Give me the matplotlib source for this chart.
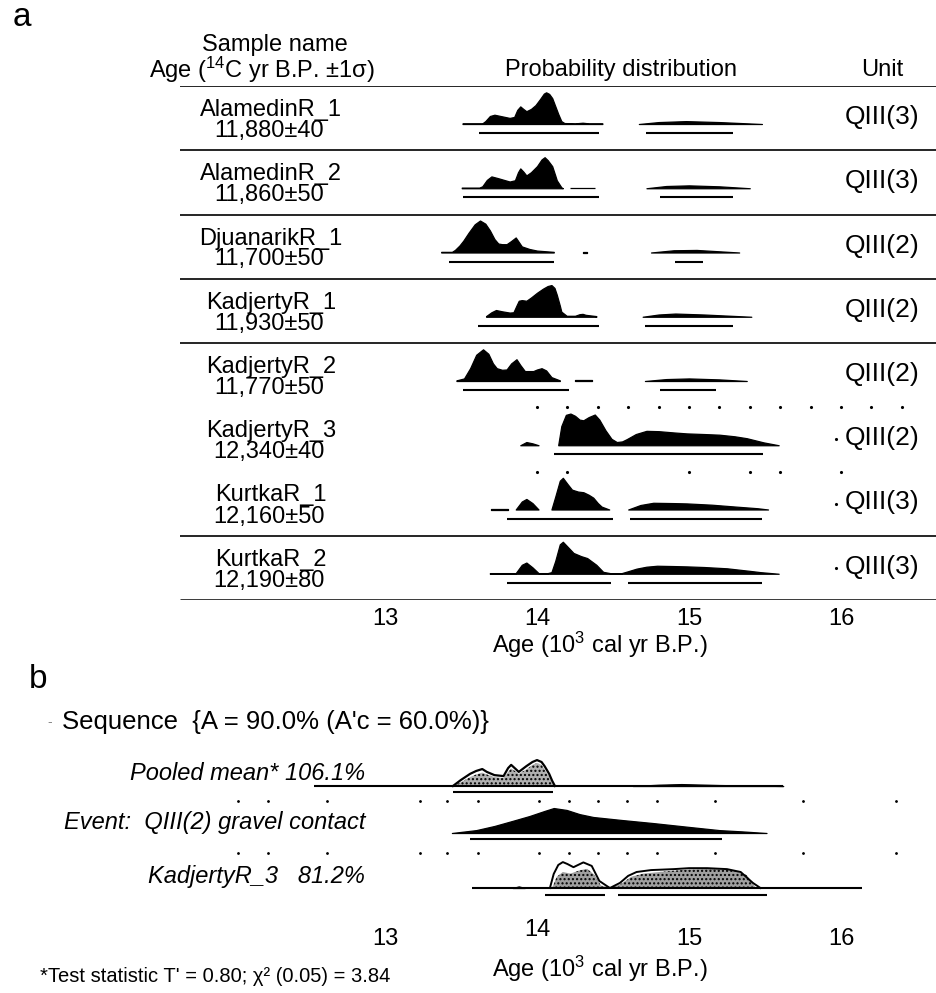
import matplotlib
matplotlib.use('Agg')
import matplotlib.pyplot as plt
import numpy as np
from matplotlib.transforms import ScaledTranslation

# ---------------- data ----------------
SAMPLE_NAMES = ['AlamedinR_1', 'AlamedinR_2', 'DjuanarikR_1', 'KadjertyR_1',
                'KadjertyR_2', 'KadjertyR_3', 'KurtkaR_1', 'KurtkaR_2']
C14_AGES = ['11,880±40', '11,860±50', '11,700±50', '11,930±50',
            '11,770±50', '12,340±40', '12,160±50', '12,190±80']
UNITS = ['QIII(3)', 'QIII(3)', 'QIII(2)', 'QIII(2)', 'QIII(2)', 'QIII(2)', 'QIII(3)', 'QIII(3)']
TICKS = [13, 14, 15, 16]

# calibrated probability (age in 10^3 cal yr B.P., relative density in % of row peak)
ALA1_AGE = [13.51, 13.64, 13.66, 13.69, 13.72, 13.76, 13.82, 13.85, 13.87, 13.89, 13.91, 13.93, 13.96,
            13.99, 14.02, 14.045, 14.06, 14.08, 14.10, 14.12, 14.14, 14.16, 14.18, 14.25, 14.30, 14.34, 14.43]
ALA1_P = [2, 2, 9, 25, 29, 25, 19, 22, 44, 55, 47, 40, 47, 59, 78, 95, 99, 94, 81, 56, 31, 9, 3, 2, 4, 2, 2]
ALA1_TAIL_AGE = [14.67, 14.80, 14.98, 15.20, 15.48]
ALA1_TAIL_P = [0, 6, 9, 6, 0]

ALA2_AGE = [13.505, 13.62, 13.64, 13.67, 13.70, 13.74, 13.82, 13.855, 13.875, 13.89, 13.91, 13.93, 13.96,
            14.00, 14.03, 14.05, 14.07, 14.10, 14.12, 14.13, 14.16, 14.17]
ALA2_P = [2, 2, 6, 26, 37, 32, 21, 25, 50, 62, 52, 40, 50, 69, 90, 97, 88, 69, 40, 25, 3, 0]
ALA2_DASH_AGE = [14.22, 14.38]
ALA2_DASH_P = [2, 2]
ALA2_TAIL_AGE = [14.72, 14.85, 15.00, 15.20, 15.40]
ALA2_TAIL_P = [0, 7, 9, 6, 0]

DJU1_AGE = [13.37, 13.44, 13.46, 13.49, 13.515, 13.55, 13.59, 13.625, 13.66, 13.69, 13.72, 13.745, 13.77,
            13.80, 13.83, 13.86, 13.88, 13.90, 13.95, 14.00, 14.11]
DJU1_P = [2, 2, 8, 22, 37, 62, 88, 100, 90, 69, 42, 28, 26, 26, 36, 47, 33, 19, 11, 6, 2]
DJU1_DASH_AGE = [14.30, 14.33]
DJU1_DASH_P = [2, 2]
DJU1_TAIL_AGE = [14.75, 14.90, 15.05, 15.33]
DJU1_TAIL_P = [0, 7, 8, 0]

KAD1_AGE = [13.665, 13.70, 13.73, 13.77, 13.82, 13.845, 13.865, 13.88, 13.90, 13.93, 13.96, 14.00, 14.04,
            14.07, 14.095, 14.115, 14.13, 14.15, 14.16, 14.195, 14.25, 14.28, 14.30, 14.32, 14.39]
KAD1_P = [2, 14, 21, 17, 13, 14, 35, 50, 52, 50, 60, 75, 88, 96, 99, 90, 69, 35, 16, 3, 3, 8, 9, 6, 2]
KAD1_TAIL_AGE = [14.695, 14.80, 14.91, 15.10, 15.41]
KAD1_TAIL_P = [0, 7, 10, 7, 0]

KAD2_AGE = [13.47, 13.52, 13.56, 13.60, 13.645, 13.68, 13.71, 13.735, 13.77, 13.80, 13.83, 13.865, 13.89,
            13.92, 13.975, 14.00, 14.03, 14.06, 14.095, 14.15]
KAD2_P = [2, 8, 40, 82, 99, 85, 55, 40, 35, 36, 55, 68, 50, 31, 31, 36, 40, 33, 12, 2]
KAD2_DASH_AGE = [14.25, 14.36]
KAD2_DASH_P = [2, 2]
KAD2_TAIL_AGE = [14.71, 14.85, 15.00, 15.20, 15.38]
KAD2_TAIL_P = [0, 6, 8, 5, 0]

KAD3_BUMP_AGE = [13.89, 13.93, 13.97, 14.01]
KAD3_BUMP_P = [0, 10, 6, 0]
KAD3_AGE = [14.14, 14.16, 14.19, 14.22, 14.25, 14.28, 14.305, 14.34, 14.38, 14.41, 14.45, 14.49, 14.525,
            14.56, 14.59, 14.65, 14.72, 14.80, 14.90, 14.985, 15.10, 15.20, 15.30, 15.38, 15.49, 15.59]
KAD3_P = [2, 60, 95, 99, 92, 80, 78, 88, 96, 80, 47, 20, 10, 12, 19, 35, 45, 44, 40, 37, 35, 33, 28, 22, 9, 0]

KUR1_DASH_AGE = [13.70, 13.81]
KUR1_DASH_P = [3, 3]
KUR1_BUMP_AGE = [13.86, 13.90, 13.93, 13.97, 14.01]
KUR1_BUMP_P = [0, 25, 33, 20, 0]
KUR1_AGE = [14.095, 14.12, 14.15, 14.17, 14.20, 14.23, 14.27, 14.305, 14.34, 14.37, 14.40, 14.425, 14.475]
KUR1_P = [0, 40, 90, 99, 80, 62, 56, 54, 46, 37, 20, 9, 0]
KUR1_TAIL_AGE = [14.60, 14.68, 14.765, 14.90, 14.985, 15.15, 15.31, 15.45, 15.52]
KUR1_TAIL_P = [0, 14, 21, 20, 19, 15, 9, 4, 0]

KUR2_AGE = [13.69, 13.86, 13.90, 13.93, 13.97, 14.01, 14.07, 14.095, 14.12, 14.15, 14.17, 14.20, 14.24,
            14.29, 14.33, 14.39, 14.435, 14.48, 14.55, 14.60, 14.655, 14.72, 14.79, 14.90, 14.985, 15.10,
            15.25, 15.40, 15.47, 15.59]
KUR2_P = [2, 2, 28, 35, 20, 2, 2, 5, 40, 92, 100, 85, 65, 55, 49, 28, 6, 2, 1, 8, 16, 22, 25, 24, 23, 21,
          17, 9, 5, 0]

# highest-probability ranges (bracket lines under each distribution)
RANGE_UPPER = [[13.62, 14.41], [13.515, 14.41], [13.42, 14.11], [13.61, 14.41],
               [13.51, 14.21], [14.11, 15.485], [13.805, 14.50], [13.80, 14.49]]
RANGE_LOWER = [[14.72, 15.29], [14.81, 15.29], [14.91, 15.09], [14.71, 15.29],
               [14.81, 15.18], None, [14.61, 15.48], [14.60, 15.48]]

# panel b: sequence model
POOLED_LINE = [12.53, 15.62]
POOLED_AGE = [13.447, 13.50, 13.56, 13.60, 13.64, 13.67, 13.72, 13.78, 13.81, 13.83, 13.86, 13.88, 13.93,
              13.97, 14.00, 14.03, 14.05, 14.08, 14.10, 14.118]
POOLED_PRIOR = [0, 19, 38, 47, 53, 44, 34, 31, 56, 66, 53, 44, 62, 75, 81, 75, 62, 38, 16, 0]
POOLED_POST = [0, 12, 28, 36, 42, 36, 28, 25, 44, 55, 45, 38, 52, 66, 72, 66, 52, 30, 10, 0]
POOLED_TAIL_AGE = [14.63, 14.80, 14.95, 15.20, 15.62]
POOLED_TAIL_P = [0, 4, 6, 3, 0]
POOLED_RANGE = [13.45, 14.105]

EVENT_AGE = [13.44, 13.60, 13.72, 13.84, 13.95, 14.05, 14.11, 14.195, 14.28, 14.37, 14.55, 14.765, 15.00,
             15.20, 15.35, 15.51]
EVENT_P = [0, 9, 22, 38, 53, 69, 78, 72, 59, 50, 41, 31, 19, 9, 5, 0]
EVENT_RANGE = [13.56, 15.22]

KAD3B_LINE = [13.57, 16.14]
KAD3B_BUMP_AGE = [13.84, 13.88, 13.92]
KAD3B_BUMP_P = [0, 5, 0]
KAD3B_AGE = [14.085, 14.11, 14.14, 14.17, 14.20, 14.24, 14.27, 14.305, 14.36, 14.41, 14.46, 14.48, 14.546,
             14.60, 14.655, 14.75, 14.90, 15.00, 15.12, 15.25, 15.34, 15.42, 15.47]
KAD3B_PRIOR = [0, 44, 72, 81, 75, 65, 72, 80, 69, 22, 6, 0, 16, 38, 50, 56, 59, 62, 62, 59, 50, 16, 0]
KAD3B_POST_AGE = [14.10, 14.13, 14.17, 14.22, 14.28, 14.33, 14.38, 14.42, 14.48, 14.55, 14.62, 14.70, 14.85,
                  15.00, 15.15, 15.30, 15.38, 15.44]
KAD3B_POST = [0, 35, 50, 45, 55, 60, 40, 8, 0, 12, 35, 45, 52, 58, 60, 55, 40, 0]
KAD3B_RANGES = [[14.05, 14.45], [14.53, 15.51]]

GRID_DOTS_A1 = [14.0, 14.2, 14.4, 14.6, 14.8, 15.0, 15.2, 15.4, 15.6, 15.8, 16.0, 16.2, 16.4]
GRID_DOTS_A2 = [14.0, 14.2, 15.0, 15.4, 15.6, 16.0]
GRID_DOTS_B = [12.03, 12.23, 12.62, 13.23, 13.41, 13.61, 14.01, 14.21, 14.40, 14.59, 14.79, 15.17, 15.75, 16.36]

ROW_SEGMENTS = [
    [(ALA1_AGE, ALA1_P), (ALA1_TAIL_AGE, ALA1_TAIL_P)],
    [(ALA2_AGE, ALA2_P), (ALA2_DASH_AGE, ALA2_DASH_P), (ALA2_TAIL_AGE, ALA2_TAIL_P)],
    [(DJU1_AGE, DJU1_P), (DJU1_DASH_AGE, DJU1_DASH_P), (DJU1_TAIL_AGE, DJU1_TAIL_P)],
    [(KAD1_AGE, KAD1_P), (KAD1_TAIL_AGE, KAD1_TAIL_P)],
    [(KAD2_AGE, KAD2_P), (KAD2_DASH_AGE, KAD2_DASH_P), (KAD2_TAIL_AGE, KAD2_TAIL_P)],
    [(KAD3_BUMP_AGE, KAD3_BUMP_P), (KAD3_AGE, KAD3_P)],
    [(KUR1_DASH_AGE, KUR1_DASH_P), (KUR1_BUMP_AGE, KUR1_BUMP_P), (KUR1_AGE, KUR1_P), (KUR1_TAIL_AGE, KUR1_TAIL_P)],
    [(KUR2_AGE, KUR2_P)],
]

# ---------------- layout ----------------
W, H, DPI = 936, 993, 100
X13, PX_PER_KYR = 385.0, 152.0
AGE_L = 13 - X13 / PX_PER_KYR
AGE_R = 13 + (W - X13) / PX_PER_KYR
PEAK_PX = 32.0
ROW_H = 64.25
A_TOP, A_BOT = 86.0, 600.0
B_TOP, B_BOT = 700.0, 910.0

plt.rcParams['font.family'] = ['Liberation Sans', 'DejaVu Sans']
plt.rcParams['mathtext.fontset'] = 'custom'
plt.rcParams['mathtext.rm'] = 'Liberation Sans'
plt.rcParams['mathtext.it'] = 'Liberation Sans:italic'
FS = 17

fig = plt.figure(figsize=(W / DPI, H / DPI), dpi=DPI)


def px2age(x):
    return 13 + (x - X13) / PX_PER_KYR


def T(x, y, s, **kw):
    kw.setdefault('fontsize', FS)
    kw.setdefault('ha', 'center')
    kw.setdefault('va', 'center')
    fig.text(x / W, 1 - y / H, s, **kw)


def dist(ax, ages, p, base, **kw):
    y = base - np.asarray(p, float) / 100.0 * PEAK_PX
    ax.fill_between(ages, base, y, facecolor='black', edgecolor='black', lw=0.9, **kw)


# ---------- panel a ----------
ax = fig.add_axes([0, 1 - A_BOT / H, 1, (A_BOT - A_TOP) / H])
ax.set_xlim(AGE_L, AGE_R)
ax.set_ylim(A_BOT, A_TOP)
for s in ax.spines.values():
    s.set_visible(False)
ax.set_yticks([])
ax.set_xticks(TICKS)
ax.set_xticklabels([str(t) for t in TICKS], fontsize=FS)
ax.tick_params(axis='x', length=0, pad=6)
ax.set_xlabel('Age (10$^3$ cal yr B.P.)', fontsize=FS)
ax.xaxis.set_label_coords(600 / W, -30 / (A_BOT - A_TOP))

xl = px2age(180)
for i in [0, 1, 2, 3, 4, 7]:
    ax.hlines(A_TOP + ROW_H * i, xl, AGE_R, color='black', lw=1.2)
ax.hlines(A_BOT, xl, AGE_R, color='black', lw=1.8)
ax.plot(GRID_DOTS_A1, [A_TOP + ROW_H * 5] * len(GRID_DOTS_A1), 'k.', ms=2.5)
ax.plot(GRID_DOTS_A2, [A_TOP + ROW_H * 6] * len(GRID_DOTS_A2), 'k.', ms=2.5)

for i in range(8):
    top = A_TOP + ROW_H * i
    base = top + 38
    for ages, p in ROW_SEGMENTS[i]:
        dist(ax, ages, p, base)
    r = RANGE_UPPER[i]
    ax.hlines(base + 9, r[0], r[1], color='black', lw=1.5)
    if RANGE_LOWER[i] is not None:
        r = RANGE_LOWER[i]
        ax.hlines(base + 9, r[0], r[1], color='black', lw=1.5)
    if i >= 5:
        ax.plot([px2age(836)], [top + 32], 'k.', ms=2.5)

# ---------- panel b ----------
bx = fig.add_axes([0, 1 - B_BOT / H, 1, (B_BOT - B_TOP) / H])
bx.set_xlim(AGE_L, AGE_R)
bx.set_ylim(B_BOT, B_TOP)
for s in bx.spines.values():
    s.set_visible(False)
bx.set_yticks([])
bx.set_xticks(TICKS)
bx.set_xticklabels([str(t) for t in TICKS], fontsize=FS)
bx.tick_params(axis='x', length=0, pad=13)
bx.set_xlabel('Age (10$^3$ cal yr B.P.)', fontsize=FS)
bx.xaxis.set_label_coords(600 / W, -44 / (B_BOT - B_TOP))
# the scanned "14" label sits a little higher than its neighbours
tk = bx.xaxis.get_major_ticks()[1]
tk.label1.set_transform(tk.label1.get_transform() + ScaledTranslation(0, 9 / DPI, fig.dpi_scale_trans))

# pooled mean
pb = 786
bx.hlines(pb, POOLED_LINE[0], POOLED_LINE[1], color='black', lw=1.5)
yprior = pb - np.asarray(POOLED_PRIOR, float) / 100 * PEAK_PX
ypost = pb - np.asarray(POOLED_POST, float) / 100 * PEAK_PX
bx.fill_between(POOLED_AGE, pb, yprior, facecolor='white', edgecolor='none')
bx.fill_between(POOLED_AGE, pb, ypost, facecolor='#b0b0b0', hatch='....', edgecolor='black', lw=0)
bx.plot(POOLED_AGE, yprior, color='black', lw=1.6)
dist(bx, POOLED_TAIL_AGE, POOLED_TAIL_P, pb)
bx.hlines(pb + 6, POOLED_RANGE[0], POOLED_RANGE[1], color='black', lw=1.5)

bx.plot(GRID_DOTS_B, [801] * len(GRID_DOTS_B), 'k.', ms=2)

# event
eb = 833
dist(bx, EVENT_AGE, EVENT_P, eb)
bx.hlines(eb + 6, EVENT_RANGE[0], EVENT_RANGE[1], color='black', lw=1.5)

bx.plot(GRID_DOTS_B, [853] * len(GRID_DOTS_B), 'k.', ms=2)

# KadjertyR_3 in sequence
kb = 888
bx.hlines(kb, KAD3B_LINE[0], KAD3B_LINE[1], color='black', lw=1.5)
dist(bx, KAD3B_BUMP_AGE, KAD3B_BUMP_P, kb)
ykp = kb - np.asarray(KAD3B_PRIOR, float) / 100 * PEAK_PX
ykq = kb - np.asarray(KAD3B_POST, float) / 100 * PEAK_PX
bx.fill_between(KAD3B_POST_AGE, kb, ykq, facecolor='#a0a0a0', hatch='....', edgecolor='black', lw=0)
bx.plot(KAD3B_AGE, ykp, color='black', lw=1.4)
for r in KAD3B_RANGES:
    bx.hlines(kb + 7, r[0], r[1], color='black', lw=1.5)

# ---------- text ----------
T(22, 18, 'a', fontsize=24)
T(275, 45, 'Sample name')
T(262, 70, 'Age ($^{14}$C yr B.P. ±1σ)')
T(621, 70, 'Probability distribution')
T(882, 70, 'Unit')
for i in range(8):
    top = A_TOP + ROW_H * i
    T(271, top + 24, SAMPLE_NAMES[i])
    T(269, top + 45, C14_AGES[i])
    T(882, top + 31, UNITS[i], fontsize=19)

T(38, 680, 'b', fontsize=24)
T(50, 722, '-', fontsize=10, color='#888888')
T(62, 722, "Sequence  {A = 90.0% (A'c = 60.0%)}", ha='left', fontsize=18.5)
T(365, 773, 'Pooled mean* 106.1%', ha='right', style='italic')
T(365, 822, 'Event:  QIII(2) gravel contact', ha='right', style='italic')
T(365, 877, 'KadjertyR_3   81.2%', ha='right', style='italic')
T(40, 977, "*Test statistic T' = 0.80; χ² (0.05) = 3.84", ha='left', fontsize=14.5)

fig.savefig('out.png', dpi=DPI)
